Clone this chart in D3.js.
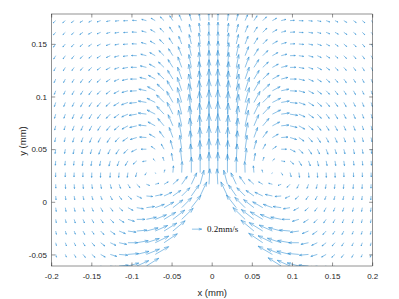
<!DOCTYPE html>
<html>
<head>
<meta charset="utf-8">
<script src="https://cdn.jsdelivr.net/npm/d3@7"></script>
<style>
  body { margin: 0; background: #fff; }
  text { font-family: "Liberation Sans", Arial, sans-serif; fill: #262626; }
</style>
</head>
<body>
<div id="chart"></div>
<script>
// grid positions (mm)
const xs = [-0.195,-0.183,-0.172,-0.161,-0.150,-0.139,-0.127,-0.116,-0.105,-0.094,-0.082,-0.071,-0.060,-0.049,-0.038,-0.026,-0.015,-0.004,
            0.007,0.019,0.030,0.041,0.052,0.063,0.075,0.086,0.097,0.108,0.120,0.131,0.142,0.153,0.164,0.176,0.187,0.198];
const ys = [0.1725,0.1614,0.1503,0.1392,0.1281,0.1170,0.1059,0.0948,0.0837,0.0726,0.0615,
            0.0504,0.0393,0.0282,0.0171,0.0060,-0.0051,-0.0162,-0.0273,-0.0384,-0.0495,-0.0605];

// flow direction (degrees, 0 = +x, 90 = +y), one row per y, null = no data (inside the tip)
const direction = [
  [222,219,215,211,206,200,193,187,182,176,165,150,135,123,113,105,98,92, 88,82,75,67,57,45,30,15,4,358,353,347,340,334,329,325,321,318],
  [228,224,220,215,209,203,196,189,183,176,164,150,135,122,112,104,97,91, 89,83,76,68,58,45,30,16,4,357,351,344,337,331,325,320,316,312],
  [234,230,226,221,215,208,200,192,185,177,164,150,135,122,111,103,96,91, 89,84,77,69,58,45,30,16,3,355,348,340,332,325,319,314,310,306],
  [239,235,231,226,220,213,205,196,188,178,165,150,135,122,111,102,96,91, 89,84,78,69,58,45,30,15,2,352,344,335,327,320,314,309,305,301],
  [243,239,235,230,224,217,209,200,191,179,166,151,136,122,110,101,95,90, 90,85,79,70,58,44,29,14,1,349,340,331,323,316,310,305,301,297],
  [246,243,239,235,229,222,214,204,193,180,166,151,136,121,109,100,94,90, 90,86,80,71,59,44,29,14,0,347,336,326,318,311,305,301,297,294],
  [249,246,242,238,233,226,218,208,196,183,168,152,136,120,108,99,93,90, 90,87,81,72,60,44,28,12,357,344,332,322,314,307,302,298,294,291],
  [252,249,245,241,236,230,222,212,200,186,170,153,135,119,106,98,93,90, 90,87,82,74,61,45,27,10,354,340,328,318,310,304,299,295,291,288],
  [254,251,248,244,240,234,226,216,204,189,172,153,133,116,104,97,92,90, 90,88,83,76,64,47,27,8,351,336,324,314,306,300,296,292,289,286],
  [256,253,250,247,243,238,231,221,209,193,174,152,130,113,102,96,92,90, 90,88,84,78,67,50,28,6,347,331,319,309,302,297,293,290,287,284],
  [258,256,253,250,247,243,237,228,215,197,176,150,126,110,100,95,92,90, 90,88,85,80,70,54,30,4,343,325,312,303,297,293,290,287,284,282],
  [262,260,258,256,253,250,245,237,225,206,180,145,118,105,98,94,91,90, 90,89,86,82,75,62,35,0,334,315,303,295,290,287,284,282,280,278],
  [265,264,263,262,261,259,256,250,240,222,190,135,108,100,96,93,91,90, 90,89,87,84,80,72,45,350,318,300,290,284,281,279,278,277,276,275],
  [268,268,268,268,268,268,267,265,262,255,240,300,75,85,88,90,90,90, 90,90,90,92,95,105,240,300,285,278,275,273,272,272,272,272,272,272],
  [272,273,274,275,277,280,284,290,300,315,340,15,30,42,55,65,75,87, 93,105,115,125,138,150,165,200,225,245,250,256,260,263,265,266,267,268],
  [275,277,279,282,285,290,297,305,318,335,355,12,25,35,45,55,65,null, null,115,125,135,145,155,168,185,205,222,235,243,250,255,258,261,263,265],
  [278,280,283,287,292,298,306,318,332,350,8,20,30,38,45,52,null,null, null,null,128,135,142,150,160,172,190,208,222,234,242,248,253,257,260,262],
  [280,283,287,292,298,305,315,328,343,0,12,22,31,38,44,null,null,null, null,null,null,136,142,149,158,168,180,197,212,225,235,242,248,253,257,260],
  [282,286,291,297,304,313,325,338,352,5,15,24,32,40,null,null,null,null, null,null,null,null,140,148,156,165,175,188,202,215,227,236,243,249,254,258],
  [284,289,295,302,311,322,335,348,0,10,18,26,34,null,null,null,null,null, null,null,null,null,null,146,154,162,170,180,192,205,218,229,238,245,251,256],
  [286,292,299,308,318,330,343,355,5,14,22,30,null,null,null,null,null,null, null,null,null,null,null,null,150,158,166,175,185,197,210,222,232,241,248,254],
  [288,295,303,313,324,337,350,5,15,24,32,null,null,null,null,null,null,null, null,null,null,null,null,null,null,148,156,165,175,190,203,216,227,237,245,252]
];

// flow speed (0.01 mm/s), same layout as direction
const speed = [
  [7,7,7,7,7,8,8,8,9,9,10,10,11,12,13,14,15,16, 16,15,14,13,12,11,10,10,9,9,8,8,8,7,7,7,7,7],
  [7,7,7,8,8,8,8,9,9,10,10,11,12,13,15,17,19,21, 21,19,17,15,13,12,11,10,10,9,9,8,8,8,8,7,7,7],
  [8,8,8,8,8,8,9,9,10,10,11,12,13,15,17,20,23,25, 25,23,20,17,15,13,12,11,10,10,9,9,8,8,8,8,8,8],
  [8,8,8,8,8,9,9,10,10,11,12,13,15,17,20,24,27,30, 30,27,24,20,17,15,13,12,11,10,10,9,9,8,8,8,8,8],
  [8,8,8,8,9,9,10,10,11,12,13,14,16,19,23,27,31,35, 35,31,27,23,19,16,14,13,12,11,10,10,9,9,8,8,8,8],
  [8,8,8,9,9,10,10,11,12,13,14,16,18,21,26,31,36,40, 40,36,31,26,21,18,16,14,13,12,11,10,10,9,9,8,8,8],
  [8,8,9,9,10,10,11,12,13,14,16,18,20,24,29,35,41,45, 45,41,35,29,24,20,18,16,14,13,12,11,10,10,9,9,8,8],
  [9,9,9,10,10,11,12,13,14,15,17,19,22,26,32,39,45,48, 48,45,39,32,26,22,19,17,15,14,13,12,11,10,10,9,9,9],
  [9,9,10,10,11,11,12,13,14,16,17,19,22,27,34,41,47,50, 50,47,41,34,27,22,19,17,16,14,13,12,11,11,10,10,9,9],
  [9,9,10,10,11,11,12,13,14,15,16,17,20,25,33,41,47,50, 50,47,41,33,25,20,17,16,15,14,13,12,11,11,10,10,9,9],
  [9,9,10,10,11,11,12,12,13,14,14,14,16,22,31,40,46,49, 49,46,40,31,22,16,14,14,14,13,12,12,11,11,10,10,9,9],
  [9,9,10,10,10,11,11,12,12,12,11,10,12,19,29,38,45,48, 48,45,38,29,19,12,10,11,12,12,12,11,11,10,10,10,9,9],
  [9,9,9,10,10,10,11,11,11,10,8,6,8,16,26,35,42,46, 46,42,35,26,16,8,6,8,10,11,11,11,10,10,10,9,9,9],
  [9,9,9,9,10,10,10,10,10,9,6,2,6,14,23,32,38,42, 42,38,32,23,14,6,2,6,9,10,10,10,10,10,9,9,9,9],
  [8,9,9,9,9,9,9,9,9,9,7,8,10,15,20,26,30,32, 32,30,26,20,15,10,8,7,9,9,9,9,9,9,9,9,9,8],
  [8,8,8,8,8,8,9,9,10,11,13,15,18,20,24,28,32,null, null,32,28,24,20,18,15,13,11,10,9,9,8,8,8,8,8,8],
  [8,8,8,8,8,9,9,10,12,14,17,20,23,26,29,32,null,null, null,null,33,30,27,24,20,17,14,12,10,9,9,8,8,8,8,8],
  [7,7,8,8,8,9,10,12,14,17,21,25,28,31,33,null,null,null, null,null,null,35,33,30,27,22,17,14,12,10,9,8,8,8,7,7],
  [7,7,7,8,8,10,12,14,17,21,25,28,31,33,null,null,null,null, null,null,null,null,35,33,30,27,22,18,14,12,10,8,8,7,7,7],
  [6,7,7,8,9,11,13,16,20,24,28,31,33,null,null,null,null,null, null,null,null,null,null,35,33,30,26,21,16,13,11,9,8,7,7,6],
  [6,6,7,8,9,11,14,18,22,26,29,32,null,null,null,null,null,null, null,null,null,null,null,null,34,31,28,23,19,14,11,9,8,7,6,6],
  [6,6,7,8,9,12,15,19,23,27,30,null,null,null,null,null,null,null, null,null,null,null,null,null,null,32,29,25,20,16,12,9,8,7,6,6]
];

const xTicks = [-0.2, -0.15, -0.1, -0.05, 0, 0.05, 0.1, 0.15, 0.2];
const yTicks = [-0.05, 0, 0.05, 0.1, 0.15];
const refSpeed = 20;            // 0.2 mm/s
const refPos = [-0.0252, -0.0255];

const width = 399, height = 299;
const plot = { left: 51.7, right: 372.7, top: 14, bottom: 266 };

const x = d3.scaleLinear().domain([-0.2, 0.2]).range([plot.left, plot.right]);
const y = d3.scaleLinear().domain([-0.0605, 0.1788]).range([plot.bottom, plot.top]);
// arrow length in px for a speed value
const len = d3.scaleLinear().domain([0, refSpeed]).range([0, 9.7]);

const svg = d3.select('#chart').append('svg')
  .attr('width', width)
  .attr('height', height);

svg.append('clipPath').attr('id', 'clip')
  .append('rect')
  .attr('x', plot.left).attr('y', plot.top)
  .attr('width', plot.right - plot.left).attr('height', plot.bottom - plot.top);

// quiver style arrow (tail at grid point)
function arrow(px, py, s, deg) {
  const L = len(s), a = deg * Math.PI / 180;
  const u = L * Math.cos(a), v = -L * Math.sin(a);
  const tx = px + u, ty = py + v;
  const al = 0.3, be = 0.33;
  const b1x = tx - al * (u + be * v), b1y = ty - al * (v - be * u);
  const b2x = tx - al * (u - be * v), b2y = ty - al * (v + be * u);
  return `M${px},${py}L${tx},${ty}M${b1x},${b1y}L${tx},${ty}L${b2x},${b2y}`;
}

const vectors = [];
ys.forEach((yv, j) => {
  xs.forEach((xv, i) => {
    const s = speed[j][i], d = direction[j][i];
    if (s == null || d == null) return;
    vectors.push({ x: xv, y: yv, s: s, d: d });
  });
});

const arrowColor = '#2f8fd3';

svg.append('g')
  .attr('clip-path', 'url(#clip)')
  .selectAll('path')
  .data(vectors)
  .enter()
  .append('path')
  .attr('d', d => arrow(x(d.x), y(d.y), d.s, d.d))
  .attr('fill', 'none')
  .attr('stroke', arrowColor)
  .attr('stroke-width', 0.55);

// reference arrow
svg.append('path')
  .attr('d', arrow(x(refPos[0]), y(refPos[1]), refSpeed, 0))
  .attr('fill', 'none')
  .attr('stroke', arrowColor)
  .attr('stroke-width', 0.55);
svg.append('text')
  .attr('x', x(refPos[0]) + 15)
  .attr('y', y(refPos[1]))
  .attr('dy', '0.35em')
  .style('font-family', '"Liberation Serif", "DejaVu Serif", serif')
  .style('font-size', '9px')
  .style('fill', '#111')
  .text('0.2mm/s');

// axes box and ticks
const axisColor = '#262626';
svg.append('rect')
  .attr('x', plot.left).attr('y', plot.top)
  .attr('width', plot.right - plot.left).attr('height', plot.bottom - plot.top)
  .attr('fill', 'none').attr('stroke', axisColor).attr('stroke-width', 0.5);

const tl = 3.5;
const ticks = svg.append('g').attr('stroke', axisColor).attr('stroke-width', 0.5);
xTicks.forEach(t => {
  ticks.append('line').attr('x1', x(t)).attr('x2', x(t)).attr('y1', plot.bottom).attr('y2', plot.bottom - tl);
  ticks.append('line').attr('x1', x(t)).attr('x2', x(t)).attr('y1', plot.top).attr('y2', plot.top + tl);
});
yTicks.forEach(t => {
  ticks.append('line').attr('x1', plot.left).attr('x2', plot.left + tl).attr('y1', y(t)).attr('y2', y(t));
  ticks.append('line').attr('x1', plot.right).attr('x2', plot.right - tl).attr('y1', y(t)).attr('y2', y(t));
});

svg.append('g').selectAll('text')
  .data(xTicks).enter().append('text')
  .attr('x', d => x(d)).attr('y', 278.5)
  .attr('text-anchor', 'middle')
  .style('font-size', '8px')
  .text(d => String(d));

svg.append('g').selectAll('text')
  .data(yTicks).enter().append('text')
  .attr('x', 47).attr('y', d => y(d))
  .attr('dy', '0.35em')
  .attr('text-anchor', 'end')
  .style('font-size', '8px')
  .text(d => String(d));

svg.append('text')
  .attr('x', (plot.left + plot.right) / 2).attr('y', 296)
  .attr('text-anchor', 'middle')
  .style('font-size', '9.5px')
  .text('x (mm)');

svg.append('text')
  .attr('transform', 'translate(26,141) rotate(-90)')
  .attr('text-anchor', 'middle')
  .style('font-size', '9.5px')
  .text('y (mm)');
</script>
</body>
</html>
